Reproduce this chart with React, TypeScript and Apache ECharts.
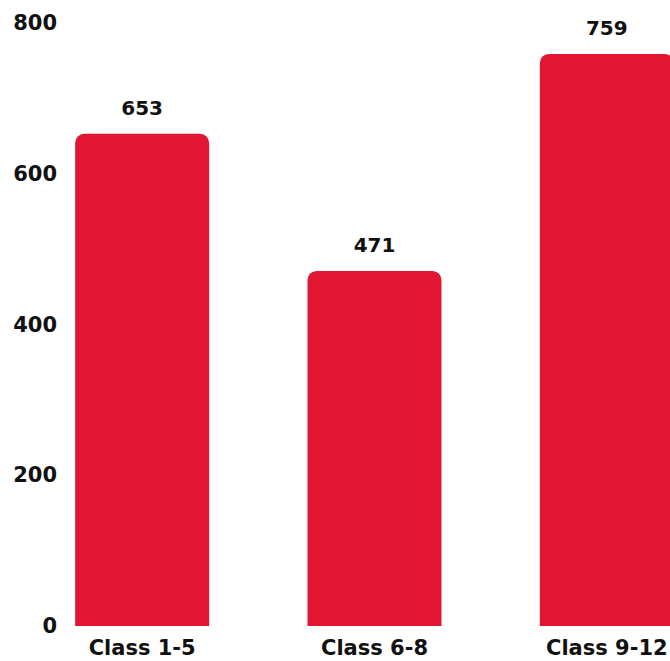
import React, { useEffect, useRef } from "react";
import * as echarts from "echarts";

const categories = ["Class 1-5", "Class 6-8", "Class 9-12"];
const values = [653, 471, 759];
const yTicks = [0, 200, 400, 600, 800];

export default function App() {
  const ref = useRef<HTMLDivElement>(null);
  useEffect(() => {
    if (!ref.current) return;
    const chart = echarts.init(ref.current, null, { renderer: "svg" });
    const font = "'DejaVu Sans', sans-serif";
    chart.setOption({
      animation: false,
      backgroundColor: "#ffffff",
      grid: { left: 26, right: 0, top: 23, bottom: 35, containLabel: false },
      xAxis: {
        type: "category",
        data: categories,
        axisLine: { show: false },
        axisTick: { show: false },
        axisLabel: {
          color: "#111111",
          fontFamily: font,
          fontWeight: "bold",
          fontSize: 21,
          margin: 11,
          interval: 0,
        },
      },
      yAxis: {
        type: "value",
        min: yTicks[0],
        max: yTicks[yTicks.length - 1],
        interval: 200,
        axisLine: { show: false },
        axisTick: { show: false },
        splitLine: { show: false },
        axisLabel: {
          color: "#111111",
          fontFamily: font,
          fontWeight: "bold",
          fontSize: 21,
          margin: -31,
        },
      },
      series: [
        {
          type: "bar",
          data: values,
          barWidth: 134,
          itemStyle: { color: "#E21532", borderRadius: [9, 9, 0, 0] },
          label: {
            show: true,
            position: "top",
            distance: 16,
            color: "#111111",
            fontFamily: font,
            fontWeight: "bold",
            fontSize: 20,
          },
        },
      ],
    });
    return () => chart.dispose();
  }, []);
  return (
    <div
      style={{
        position: "fixed",
        left: 0,
        top: 0,
        width: 670,
        height: 661,
        overflow: "hidden",
        background: "#ffffff",
      }}
    >
      <div ref={ref} style={{ width: 723, height: 661 }} />
    </div>
  );
}
